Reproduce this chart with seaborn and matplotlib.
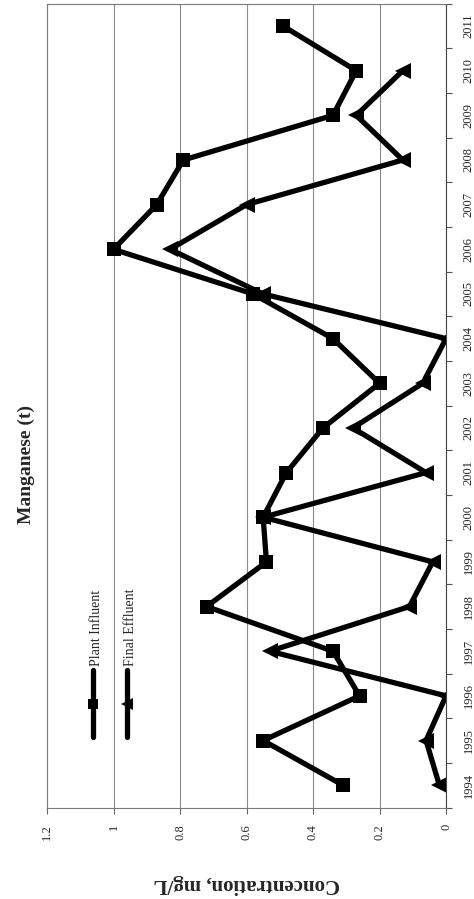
import numpy as np
import pandas as pd
import matplotlib
matplotlib.use("Agg")
import matplotlib.pyplot as plt
from matplotlib.lines import Line2D
from matplotlib.ticker import FixedLocator
import seaborn as sns

# Annual manganese concentrations (mg/L)
years = list(range(1994, 2012))
plant_influent = [0.31, 0.55, 0.26, 0.34, 0.72, 0.54, 0.55, 0.48, 0.37,
                  0.20, 0.34, 0.58, 1.00, 0.87, 0.79, 0.34, 0.27, 0.49]
final_effluent = [0.02, 0.06, 0.00, 0.53, 0.11, 0.04, 0.55, 0.06, 0.28,
                  0.07, 0.00, 0.55, 0.83, 0.60, 0.13, 0.27, 0.13, np.nan]
conc_ticks = [0, 0.2, 0.4, 0.6, 0.8, 1.0, 1.2]
conc_labels = ["0", "0.2", "0.4", "0.6", "0.8", "1", "1.2"]
series_names = ["Plant Influent", "Final Effluent"]

sns.set_theme(style="white")
plt.rcParams["font.family"] = ["Liberation Serif", "DejaVu Serif"]

W, H = 474, 899
fig = plt.figure(figsize=(W / 100, H / 100), dpi=100)
fig.patch.set_facecolor("white")

# the whole chart is laid out turned a quarter turn: years run up the right side,
# concentration grows from right to left
ax = fig.add_axes([47 / W, 1 - 807.5 / H, 399 / W, 803.8 / H])

df = pd.DataFrame({"year": years,
                   series_names[0]: plant_influent,
                   series_names[1]: final_effluent})

line_kw = dict(color="black", linewidth=3.8, errorbar=None, orient="y",
               markeredgewidth=0, ax=ax)
sns.lineplot(data=df, x=series_names[0], y="year", marker="s",
             markersize=10.5, **line_kw)
sns.lineplot(data=df.dropna(), x=series_names[1], y="year", marker="<",
             markersize=12, **line_kw)

ax.set_xlim(1.2, 0)
ax.set_ylim(years[0] - 0.5, years[-1] + 0.5)
ax.set_xlabel("")
ax.set_ylabel("")

# concentration axis (bottom)
ax.set_xticks(conc_ticks)
ax.set_xticklabels(conc_labels, rotation=90, fontsize=9)
ax.tick_params(axis="x", which="major", direction="out", length=4, width=0.8,
               color="#666666", pad=8, bottom=True)

# year axis (right)
ax.yaxis.tick_right()
ax.set_yticks(years)
ax.set_yticklabels([str(y) for y in years], rotation=90, fontsize=9,
                   va="center")
ax.yaxis.set_minor_locator(FixedLocator([y + 0.5 for y in [years[0] - 1] + years]))
ax.tick_params(axis="y", which="major", length=0, pad=12)
ax.tick_params(axis="y", which="minor", direction="out", length=4, width=0.8,
               color="#555555", right=True, left=False)

ax.grid(axis="x", color="#8a8a8a", linewidth=0.8)
ax.grid(axis="y", visible=False)
for side, sp in ax.spines.items():
    sp.set_visible(True)
    sp.set_color("#7a7a7a")
    sp.set_linewidth(0.8)
ax.spines["right"].set_color("#444444")

# titles
fig.text(26 / W, 1 - 465 / H, "Manganese (t)", rotation=90, ha="center",
         va="center", fontsize=14, fontweight="bold")
fig.text(247 / W, 1 - 884 / H, "Concentration, mg/L", rotation=180,
         ha="center", va="center", fontsize=15, fontweight="bold")

# legend, drawn upright along the left of the plot
legend_items = [(series_names[0], "s", 7, 93), (series_names[1], "<", 8, 127)]
for name, mk, ms, px in legend_items:
    x = px / W
    y0, y1 = 1 - 737 / H, 1 - 670 / H
    fig.add_artist(Line2D([x, x], [y0, y1], color="black", linewidth=3.8,
                          transform=fig.transFigure))
    fig.add_artist(Line2D([x], [(y0 + y1) / 2], color="black", marker=mk,
                          markersize=ms, markeredgewidth=0,
                          transform=fig.transFigure))
    fig.text(x + 3 / W, 1 - 666 / H, name, rotation=90, rotation_mode="anchor",
             ha="left", va="center", fontsize=10)

fig.savefig("out.png", dpi=100, facecolor="white")
